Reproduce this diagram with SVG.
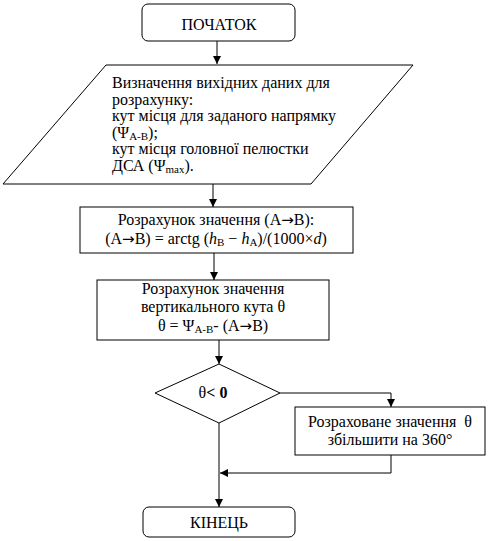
<svg xmlns="http://www.w3.org/2000/svg" width="490" height="541" viewBox="0 0 490 541">
<defs>
<marker id="ah" markerWidth="8" markerHeight="8" refX="8" refY="4" orient="auto" markerUnits="userSpaceOnUse">
<path d="M0,0 L8,4 L0,8 Z" fill="#000"/>
</marker>
<style>
.s{fill:#fff;stroke:#000;stroke-width:1}
.t{font-family:"Liberation Serif","Times New Roman",serif;font-size:16px;fill:#000}
.c{text-anchor:middle}
.sub{font-size:11px}
.ar{font-family:"DejaVu Sans",sans-serif;font-size:15px}
.ln{fill:none;stroke:#000;stroke-width:1}
</style>
</defs>
<rect width="490" height="541" fill="#fff"/>
<g id="connectors">
<path class="ln" d="M217,41 V64" marker-end="url(#ah)"/>
<path class="ln" d="M213,184 V207" marker-end="url(#ah)"/>
<path class="ln" d="M214,253 V280" marker-end="url(#ah)"/>
<path class="ln" d="M219,340 V364" marker-end="url(#ah)"/>
<path class="ln" d="M280,393 H391 V407" marker-end="url(#ah)"/>
<path class="ln" d="M391,455 V473 H220" marker-end="url(#ah)"/>
<path class="ln" d="M219,423 V507" marker-end="url(#ah)"/>
</g>
<g id="start">
<rect class="s" x="142" y="4" width="153" height="37" rx="6"/>
<text class="t c" x="219" y="30">ПОЧАТОК</text>
</g>
<g id="input">
<polygon class="s" points="106,65 413,65 311,184 3,184"/>
<text class="t" x="112" y="88">Визначення вихідних даних для</text>
<text class="t" x="112" y="104.5">розрахунку:</text>
<text class="t" x="112" y="121">кут місця для заданого напрямку</text>
<text class="t" x="112" y="137.5">(Ψ<tspan class="sub" dy="2">A-B</tspan><tspan dy="-2">);</tspan></text>
<text class="t" x="112" y="154">кут місця головної пелюстки</text>
<text class="t" x="112" y="170.5">ДСА (Ψ<tspan class="sub" dy="2">max</tspan><tspan dy="-2">).</tspan></text>
</g>
<g id="calc1">
<rect class="s" x="80" y="207" width="273" height="46"/>
<text class="t c" x="216" y="225">Розрахунок значення (A<tspan class="ar">→</tspan>B):</text>
<text class="t c" x="216" y="244">(A<tspan class="ar">→</tspan>B) = arctg (<tspan font-style="italic">h</tspan><tspan class="sub" dy="2">B</tspan><tspan dy="-2"> − </tspan><tspan font-style="italic">h</tspan><tspan class="sub" dy="2">A</tspan><tspan dy="-2">)/(1000×</tspan><tspan font-style="italic">d</tspan>)</text>
</g>
<g id="calc2">
<rect class="s" x="97" y="280" width="232" height="60"/>
<text class="t c" x="213" y="294">Розрахунок значення</text>
<text class="t c" x="213" y="312">вертикального кута θ</text>
<text class="t c" x="213" y="331">θ = Ψ<tspan class="sub" dy="2">A-B</tspan><tspan dy="-2">- (A</tspan><tspan class="ar">→</tspan>B)</text>
</g>
<g id="decision">
<polygon class="s" points="219,364 280,393 219,423 155,393"/>
<text class="t c" x="213" y="398">θ<tspan font-weight="bold">&lt; 0</tspan></text>
</g>
<g id="adjust">
<rect class="s" x="295" y="407" width="190" height="48"/>
<text class="t c" x="390" y="427">Розраховане значення&#160; θ</text>
<text class="t c" x="390" y="445">збільшити на 360°</text>
</g>
<g id="end">
<rect class="s" x="143" y="507" width="152" height="30" rx="6"/>
<text class="t c" x="219" y="528">КІНЕЦЬ</text>
</g>
</svg>
